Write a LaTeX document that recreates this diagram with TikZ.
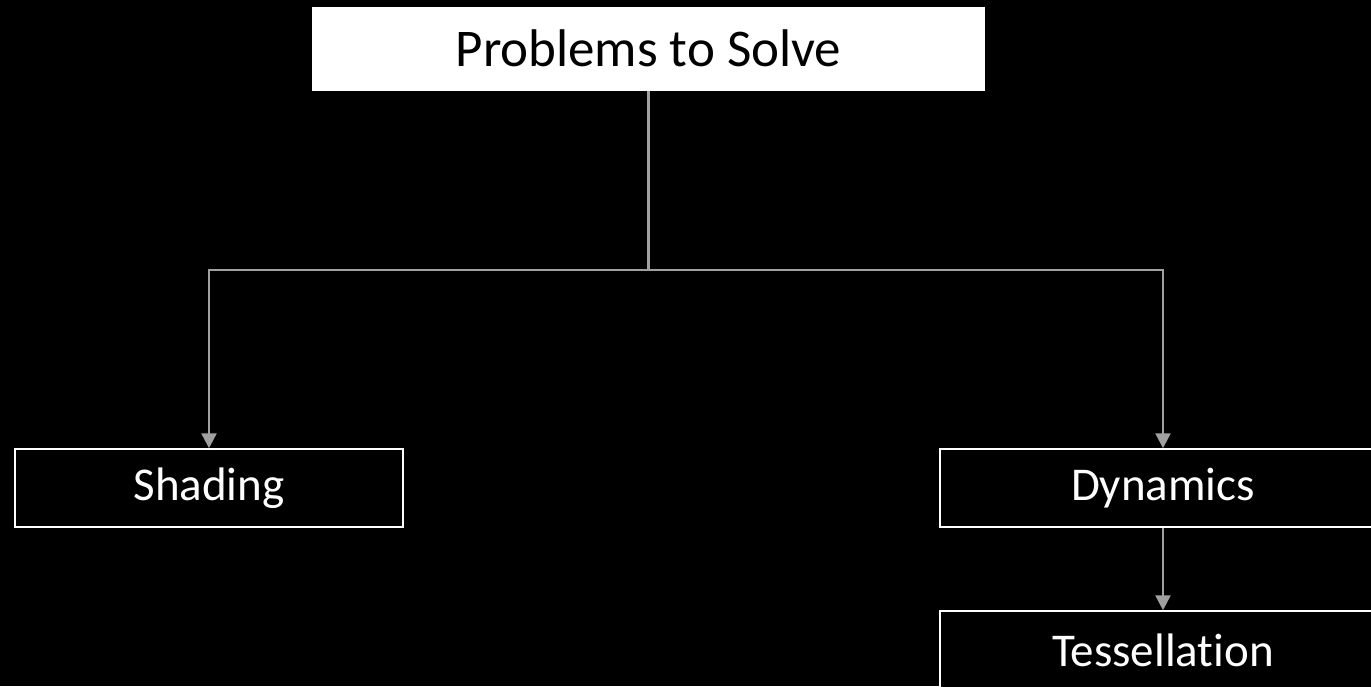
\documentclass[tikz,border=0pt]{standalone}
\usepackage{fontspec}
\setmainfont{Carlito}[Ligatures=NoCommon]
\usetikzlibrary{arrows.meta}
\begin{document}
\begin{tikzpicture}[x=1pt,y=-1pt,
  topbox/.style={draw=none,fill=white,text=black,minimum width=673pt,minimum height=84pt,inner sep=0pt,font=\fontsize{53}{60}\selectfont},
  childbox/.style={draw=white,line width=1.5pt,fill=black,text=white,minimum height=78pt,inner sep=0pt,font=\fontsize{47}{54}\selectfont},
  conn/.style={draw={rgb,255:red,160;green,160;blue,160},line width=2.5pt,-{Triangle[width=15pt,length=15pt]}},
  plain/.style={draw={rgb,255:red,160;green,160;blue,160},line width=2.5pt}]
\fill[black] (0,0) rectangle (1371,686);
\clip (0,0) rectangle (1371,686);
\node[topbox] (top) at (648.5,48.5) {Problems to Solve};
\node[childbox,minimum width=388pt] (shading) at (209,488) {Shading};
\node[childbox,minimum width=446pt] (dyn) at (1163,488) {Dynamics};
\node[childbox,minimum width=446pt] (tess) at (1163,650) {Tessellation};
\coordinate (mid) at (648.5,270);
\draw[plain] (top.south) -- (mid);
\draw[conn] (mid) -| (shading.north);
\draw[conn] (mid) -| (dyn.north);
\draw[conn] (dyn.south) -- (tess.north);
\end{tikzpicture}
\end{document}
